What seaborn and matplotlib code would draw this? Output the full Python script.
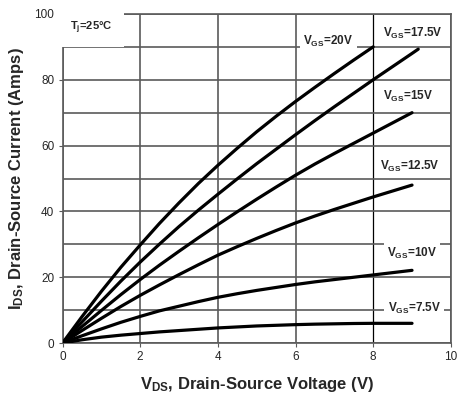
import numpy as np
import pandas as pd
import matplotlib
matplotlib.use("Agg")
import matplotlib.pyplot as plt
import seaborn as sns

# drain-source voltage points (V)
vds = [0, 0.5, 1, 1.5, 2, 2.5, 3, 3.5, 4, 4.5, 5, 5.5, 6, 6.5, 7, 7.5, 8, 8.5, 9]

# drain current (A) for each gate voltage
id_20 = [0, 8.0, 15.7, 23.0, 29.8, 36.4, 42.6, 48.5, 54.0, 59.2, 64.2,
         68.9, 73.4, 77.7, 81.9, 86.0, 90.0]
id_175 = [0, 6.4, 12.7, 18.8, 24.6, 30.1, 35.4, 40.4, 45.2, 49.9, 54.5,
          58.9, 63.3, 67.6, 71.8, 75.9, 80.0, 84.0, 88.0]
id_15 = [0, 5.0, 9.9, 14.7, 19.3, 23.7, 27.9, 32.0, 36.0, 39.9, 43.7,
         47.4, 51.0, 54.4, 57.6, 60.7, 63.8, 66.9, 70.0]
id_125 = [0, 3.8, 7.5, 11.1, 14.5, 17.7, 20.8, 23.8, 26.7, 29.3, 31.8,
          34.2, 36.5, 38.6, 40.6, 42.5, 44.4, 46.2, 48.0]
id_10 = [0, 2.2, 4.3, 6.3, 8.1, 9.8, 11.2, 12.6, 13.9, 15.0, 16.0,
         16.9, 17.8, 18.6, 19.3, 20.0, 20.7, 21.4, 22.1]
id_75 = [0, 1.0, 1.8, 2.4, 2.9, 3.4, 3.8, 4.2, 4.6, 4.9, 5.2,
         5.4, 5.6, 5.75, 5.85, 5.95, 6.0, 6.0, 6.0]

vgs_names = ["20V", "17.5V", "15V", "12.5V", "10V", "7.5V"]
curve_list = [id_20, id_175, id_15, id_125, id_10, id_75]
# the 17.5V curve runs a little past 9V
end_175 = (9.16, 89.3)

rows = []
for name, cur in zip(vgs_names, curve_list):
    xs = list(vds[:len(cur)])
    ys = list(cur)
    if name == "17.5V":
        xs.append(end_175[0])
        ys.append(end_175[1])
    for x, y in zip(xs, ys):
        rows.append({"vds": x, "ids": y, "vgs": name})
df = pd.DataFrame(rows)

sns.set_style("white")
plt.rcParams["font.family"] = ["Liberation Sans", "DejaVu Sans"]
plt.rcParams["mathtext.fontset"] = "custom"
plt.rcParams["mathtext.rm"] = "Liberation Sans:bold"
plt.rcParams["mathtext.it"] = "Liberation Sans:bold"
plt.rcParams["mathtext.bf"] = "Liberation Sans:bold"
plt.rcParams["mathtext.default"] = "rm"

fig = plt.figure(figsize=(4.61, 3.98), dpi=100)
ax = fig.add_axes([0.1356, 0.138, 0.8424, 0.827])

sns.lineplot(data=df, x="vds", y="ids", units="vgs", estimator=None,
             color="black", lw=2.3, ax=ax, zorder=4, sort=True)

ax.set_xlim(0, 10)
ax.set_ylim(0, 100)
ax.set_xticks([0, 2, 4, 6, 8, 10])
ax.set_yticks(np.arange(0, 101, 20))
ax.set_yticks(np.arange(0, 101, 10), minor=True)
ax.grid(True, which="both", color="#5a5a5a", lw=1.2, zorder=1)
ax.grid(False, which="minor", axis="x")
ax.set_axisbelow(True)
# the 8V line is drawn thin and black in the original
gl = ax.get_xgridlines()[4]
gl.set_color("black")
gl.set_linewidth(0.9)
for s in ax.spines.values():
    s.set_color("#5a5a5a")
    s.set_linewidth(1.2)
ax.tick_params(axis="both", which="major", labelsize=8.5, length=3,
               color="#5a5a5a", pad=3, direction="out", left=True, bottom=True)
ax.tick_params(axis="both", which="minor", length=0)

ax.set_xlabel(r"V$_{DS}$, Drain-Source Voltage (V)", fontsize=12,
              fontweight="bold", labelpad=8)
ax.set_ylabel(r"I$_{DS}$, Drain-Source Current (Amps)", fontsize=12,
              fontweight="bold", labelpad=6)

ax.text(0.74, 95.7, r"T$_j$=25°C", fontsize=8, fontweight="bold",
        ha="center", va="center",
        bbox=dict(facecolor="white", edgecolor="none", pad=8), zorder=3)
lab_pos = {"20V": (6.84, 91.6), "17.5V": (9.03, 94.2), "15V": (8.9, 74.9),
           "12.5V": (8.95, 53.6), "10V": (9.0, 27.3), "7.5V": (9.06, 10.6)}
box = dict(facecolor="white", edgecolor="none", pad=2.5)
for name in vgs_names:
    x, y = lab_pos[name]
    ax.text(x, y, r"V$_{GS}$=" + name, fontsize=8.5, fontweight="bold",
            ha="center", va="center", bbox=box, zorder=3)

fig.savefig("out.png", dpi=100)
